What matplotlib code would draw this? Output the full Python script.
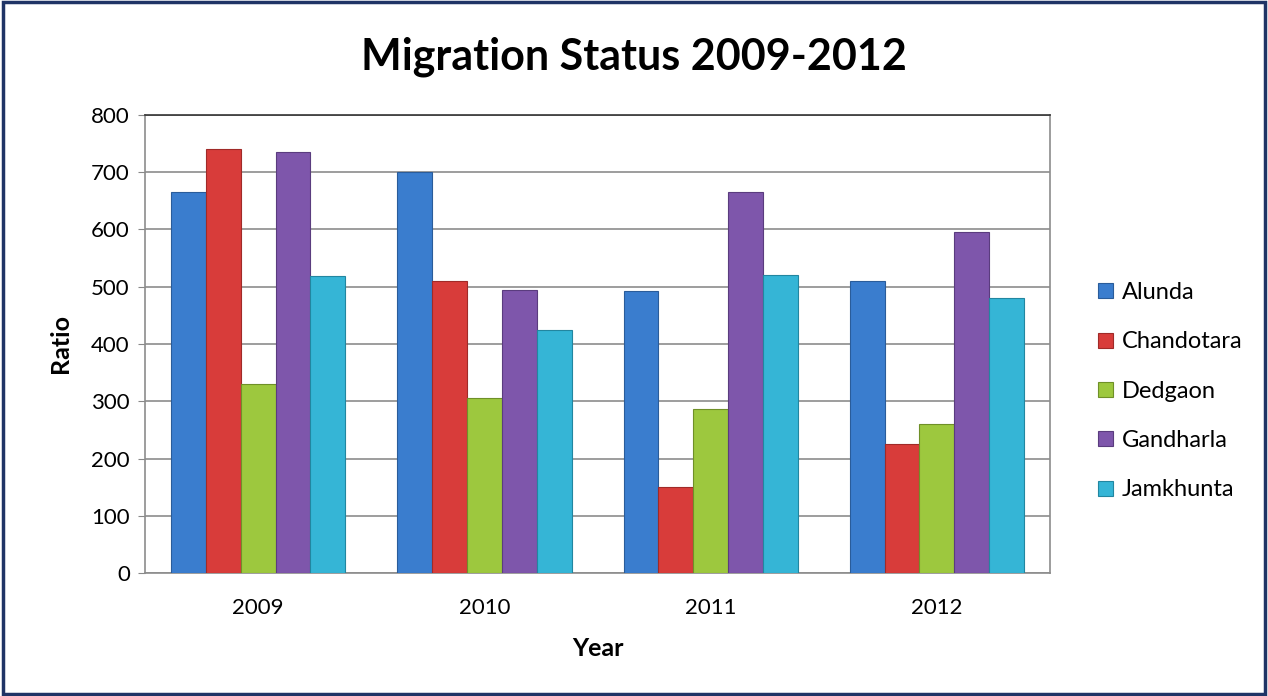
import matplotlib
matplotlib.use("Agg")
import matplotlib.pyplot as plt
import numpy as np
from matplotlib.patches import Rectangle

years = ["2009", "2010", "2011", "2012"]
villages = ["Alunda", "Chandotara", "Dedgaon", "Gandharla", "Jamkhunta"]
alunda = [665, 700, 492, 510]
chandotara = [740, 510, 150, 225]
dedgaon = [330, 305, 287, 260]
gandharla = [735, 494, 665, 595]
jamkhunta = [518, 425, 520, 480]
colors = ["#3A7DCE", "#D83C3A", "#9DC83E", "#7E56AB", "#35B5D6"]
edges = ["#2A5C9A", "#A02A28", "#6F9028", "#5A3C7E", "#2286A0"]

plt.rcParams["font.family"] = ["Lato", "DejaVu Sans"]

fig = plt.figure(figsize=(12.68, 6.96), dpi=100)
fig.patches.append(Rectangle((0.002, 0.003), 0.996, 0.994, transform=fig.transFigure,
                             fill=False, edgecolor="#1F3466", linewidth=2.5))
ax = fig.add_axes([0.1144, 0.1767, 0.7137, 0.6581])

series = [alunda, chandotara, dedgaon, gandharla, jamkhunta]
x = np.arange(len(years))
w = 0.154
for i, (name, vals) in enumerate(zip(villages, series)):
    ax.bar(x + (i - 2) * w, vals, width=w, color=colors[i], edgecolor=edges[i],
           linewidth=0.8, label=name, zorder=3)

ax.set_xlim(-0.5, 3.5)
ax.set_ylim(0, 800)
ax.set_yticks(range(0, 801, 100))
ax.set_xticks(x)
ax.set_xticklabels(years)
ax.tick_params(axis="x", length=0, labelsize=16, pad=18)
ax.tick_params(axis="y", length=5, labelsize=16, color="#888888", pad=6)
ax.grid(axis="y", color="#8C8C8C", linewidth=1.2, zorder=0)
for s in ax.spines.values():
    s.set_color("#8C8C8C")
    s.set_linewidth(1.2)
ax.spines["top"].set_color("#333333")

ax.set_xlabel("Year", fontsize=18, fontweight="bold", labelpad=14)
ax.set_ylabel("Ratio", fontsize=18, fontweight="bold", labelpad=14)
fig.suptitle("Migration Status 2009-2012", fontsize=31, fontweight="bold", y=0.948)

ax.legend(loc="center left", bbox_to_anchor=(1.03, 0.397), frameon=False,
          fontsize=17, labelspacing=1.2, handlelength=0.6, handleheight=0.6,
          handletextpad=0.4)

fig.savefig("out.png", dpi=100)
